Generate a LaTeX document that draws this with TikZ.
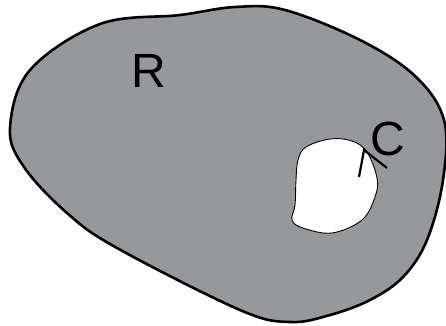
\documentclass[tikz,border=0pt]{standalone}
\usepackage{fontspec}
\setmainfont{Liberation Sans}
\definecolor{regiongray}{RGB}{150,152,156}
\begin{document}
\begin{tikzpicture}[x=1pt,y=-1pt,
  lbl/.style={inner sep=0pt,font=\fontsize{48}{48}\selectfont},
  outline/.style={line width=2.6pt,line join=round},
  holeline/.style={line width=0.9pt},
  tick/.style={line width=2.2pt}]
\useasboundingbox (0,0) rectangle (446,325);
% outer region
\path[fill=regiongray,draw=black,outline] plot[smooth cycle,tension=0.6] coordinates {
  (10,128) (30,70) (100,24) (180,15) (235,7) (285,10)
  (360,40) (415,76) (444,120) (443,180) (427,240)
  (403,277) (370,300) (330,315) (290,322) (240,310) (117,248) (67,213)
  (24,167)};
% hole
\path[fill=white,draw=black,holeline] plot[smooth cycle,tension=0.6] coordinates {
  (330,139) (352,141) (367,152) (377,178) (375,197) (362,220) (332,233)
  (303,228) (292,220) (295,205) (296,180) (298,160) (306,147)};
% tick lines at C
\coordinate (t0) at (359,177);
\coordinate (t1) at (364,150);
\coordinate (t2) at (387,168);
\draw[tick] (t0) -- (t1) -- (t2);
% labels
\node[lbl] (R) at (149,71) {R};
\node[lbl] (C) at (388,139) {C};
\end{tikzpicture}
\end{document}
